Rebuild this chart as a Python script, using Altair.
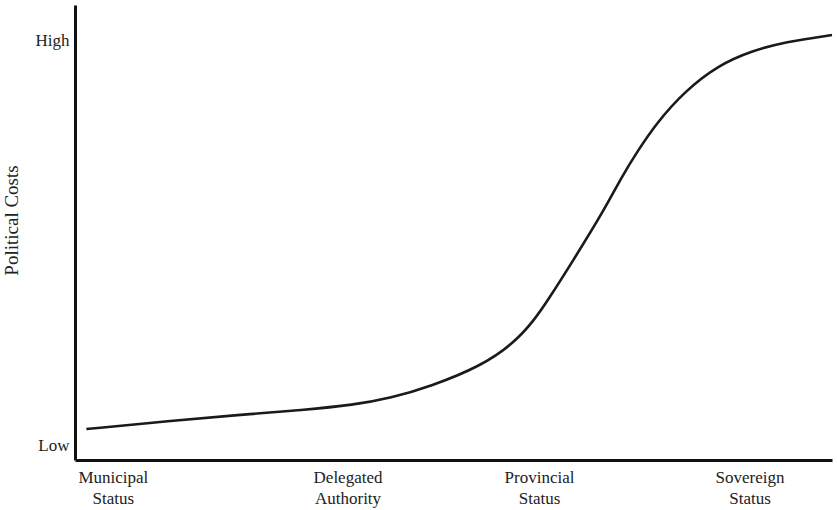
import altair as alt
import pandas as pd

# Curve (x: 0-100 across the axis, y: 0-100 up the axis)
curve_x = [1.5, 12.6, 21.5, 30.2, 36.8, 41.7, 47.0, 53.6, 58.0, 60.7, 62.5,
           65.6, 69.9, 72.2, 74.4, 76.8, 80.5, 85.0, 89.4, 93.8, 100.0]
curve_y = [6.8, 8.6, 9.9, 11.0, 12.1, 13.6, 16.2, 20.6, 25.7, 30.8, 35.2,
           43.3, 54.9, 62.2, 68.1, 74.0, 81.0, 86.8, 89.9, 91.9, 93.4]

x_tick_values = [5.0, 36.0, 61.3, 89.1]
x_tick_labels = [["Municipal", "Status"], ["Delegated", "Authority"],
                 ["Provincial", "Status"], ["Sovereign", "Status"]]
y_tick_values = [3.1, 92.3]
y_tick_labels = ["Low", "High"]

df = pd.DataFrame({"x": curve_x, "y": curve_y})


def expr_for(values, labels):
    parts = []
    for v, lab in zip(values, labels):
        if isinstance(lab, list):
            s = "[" + ",".join("'" + t + "'" for t in lab) + "]"
        else:
            s = "'" + lab + "'"
        parts.append(f"abs(datum.value - {v}) < 0.01 ? {s} : ")
    return "".join(parts) + "''"


FONT = "Liberation Serif"

chart = alt.Chart(df).mark_line(
    color="#1a1a1a", strokeWidth=2.6, interpolate="basis", clip=False
).encode(
    x=alt.X("x:Q", scale=alt.Scale(domain=[0, 100], nice=False, zero=False),
            axis=alt.Axis(values=x_tick_values, labelExpr=expr_for(x_tick_values, x_tick_labels),
                          title=None, grid=False, ticks=False, domainWidth=3,
                          domainColor="#111111", labelFont=FONT, labelFontSize=17,
                          labelColor="#222222", labelPadding=9, labelLineHeight=21,
                          labelOverlap=False, labelFlush=False)),
    y=alt.Y("y:Q", scale=alt.Scale(domain=[0, 100], nice=False, zero=False),
            axis=alt.Axis(values=y_tick_values, labelExpr=expr_for(y_tick_values, y_tick_labels),
                          title="Political Costs", titleFont=FONT, titleFontSize=19,
                          titleFontWeight="normal", titleColor="#222222",
                          titleX=-64, titleY=215, titleBaseline="middle", titleAngle=-90,
                          grid=False, ticks=False, domainWidth=3, domainColor="#111111",
                          labelFont=FONT, labelFontSize=17, labelColor="#222222",
                          labelPadding=6, labelOverlap=False, labelFlush=False)),
).properties(
    width=757, height=455,
    autosize=alt.AutoSizeParams(type="none"),
    padding={"left": 75, "top": 5, "right": 5, "bottom": 50},
    background="white",
).configure_view(stroke=None)

chart.save("out.html", embed_options={"renderer": "svg", "actions": False})
